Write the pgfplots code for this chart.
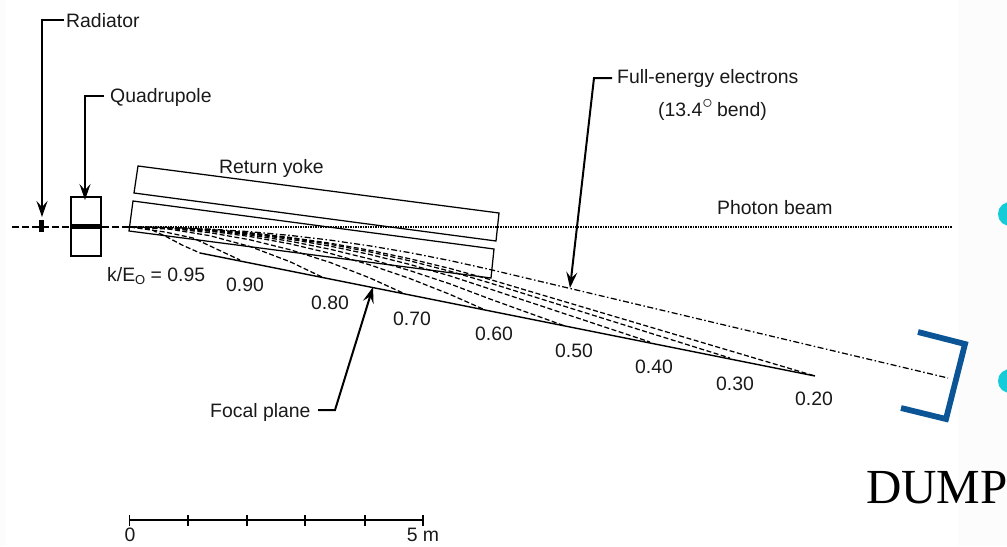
\documentclass[border=0pt]{standalone}
\usepackage{pgfplots}
\pgfplotsset{compat=1.18}
\usetikzlibrary{arrows.meta}
\usepackage{fontspec}
\setmainfont{Liberation Sans}
\newfontfamily\timesf{Liberation Serif}
\definecolor{dumpblue}{HTML}{0B5596}
\definecolor{dotcyan}{HTML}{14CBD8}
\definecolor{sidebg}{HTML}{FCFCFC}
\tikzset{ptr/.style={-{Stealth[length=16bp,width=11bp,inset=6bp]}}, traj/.style={black, line width=1.25bp, dash pattern=on 5bp off 2.5bp}}
\begin{document}
\begin{tikzpicture}
\begin{axis}[
  scale only axis, width=1007bp, height=546bp,
  xmin=0, xmax=1007, ymin=0, ymax=546, y dir=reverse,
  hide axis, clip=true,
  every axis plot/.append style={no markers, line join=miter},
  nodes={font=\fontsize{19.4bp}{22bp}\selectfont, text=black!90, inner sep=0pt}
]
% side background
\addplot[fill=sidebg, draw=none] coordinates {(958,0)(1007,0)(1007,546)(958,546)} -- cycle;
\addplot[fill=sidebg, draw=none] coordinates {(0,0)(6,0)(6,546)(0,546)} -- cycle;
% beam
\addplot[black, line width=1.2bp, dash pattern=on 7bp off 3bp] coordinates {(12,227)(130,227)};
\addplot[black, line width=1.6bp, dash pattern=on 1.5bp off 1bp] coordinates {(130,227)(952,227)};
% radiator, quadrupole
\addplot[fill=black, draw=none] coordinates {(39,220)(44,220)(44,232)(39,232)} -- cycle;
\addplot[black, line width=1.1bp, fill=white] coordinates {(71,197)(101,197)(101,256)(71,256)} -- cycle;
\addplot[fill=black, draw=none] coordinates {(71,224)(101,224)(101,229)(71,229)} -- cycle;
% yokes
\addplot[black, line width=1.25bp] coordinates {(138,166)(499,213)(496,241)(134,193)} -- cycle;
\addplot[black, line width=1.25bp] coordinates {(133,201)(494,249)(491,278)(129,231)} -- cycle;
% focal plane
\addplot[black, line width=1.4bp] coordinates {(200,253)(815,376)};
% trajectories
\addplot[traj] coordinates {(130,227)(170,227.6)(210,229.6)(250,232.8)(290,237.4)(330,243.2)(370,250.3)(410,258.8)(450,268.5)(490,279.5)(815,376)};
\addplot[traj] coordinates {(130,227)(170,227.7)(210,229.8)(250,233.2)(290,238.1)(330,244.3)(370,251.9)(410,260.9)(450,271.2)(490,283)(730,358)};
\addplot[traj] coordinates {(130,227)(170,227.8)(210,230.1)(250,233.9)(290,239.2)(330,246.1)(370,254.5)(410,264.5)(450,275.9)(490,289)(650,342)};
\addplot[traj] coordinates {(130,227)(170,227.9)(210,230.6)(250,235)(290,241.2)(330,249.2)(370,259)(410,270.6)(450,283.9)(490,299)(565,326)};
\addplot[traj] coordinates {(130,227)(170,228)(210,231.2)(250,236.5)(290,243.8)(330,253.3)(370,264.9)(410,278.6)(450,294.4)(483,309)};
\addplot[traj] coordinates {(130,227)(170,228.4)(210,232.7)(250,239.8)(290,249.7)(330,262.4)(370,278)(403,293)};
\addplot[traj] coordinates {(130,227)(170,229.2)(210,235.7)(250,246.5)(290,261.7)(322,277)};
\addplot[traj] coordinates {(130,227)(165,232)(193,238)(240,260)};
\addplot[traj] coordinates {(130,227)(150,229)(167,237)(182,245)(200,253)};
% full energy
\addplot[black, line width=1.25bp, dash pattern=on 6bp off 2.5bp on 1.5bp off 2.5bp] coordinates {(130,227)(170,227.5)(210,229.1)(250,231.7)(290,235.4)(330,240.1)(370,245.9)(410,252.7)(450,260.6)(490,269.5)(948,378)};
% dump
\addplot[dumpblue, line width=5.8bp] coordinates {(918,332)(965,344)(946,419)(901,408)};
% dots
\addplot[fill=dotcyan, draw=none] coordinates {(1007,202.4)(1002,205)(999,209)(998,214)(999,219)(1002,223)(1007,225.6)} -- cycle;
\addplot[fill=dotcyan, draw=none] coordinates {(1007,369.4)(1002,372)(999,376)(998,381)(999,386)(1002,390)(1007,392.6)} -- cycle;
% pointer lines
\addplot[black, line width=2.2bp, ptr] coordinates {(64,20)(42,20)(42,217)};
\addplot[black, line width=1.5bp, ptr] coordinates {(104,96)(85,96)(85,200)};
\addplot[black, line width=2bp, ptr] coordinates {(612,78)(594,78)(570,288)};
\addplot[black, line width=2bp, ptr] coordinates {(318,410)(335,410)(373,287)};
% scale
\addplot[black, line width=1.3bp] coordinates {(129.5,520)(423,520)};
\addplot[black, line width=1.3bp] coordinates {(129.5,515)(129.5,526)};
\addplot[black, line width=2.4bp] coordinates {(188,515)(188,526)};
\addplot[black, line width=1.3bp] coordinates {(247,515)(247,526)};
\addplot[black, line width=1.3bp] coordinates {(305,515)(305,526)};
\addplot[black, line width=1.3bp] coordinates {(365,515)(365,526)};
\addplot[black, line width=1.3bp] coordinates {(423,515)(423,526)};
% text
\node[anchor=base west] at (axis cs:66,27.5) {Radiator};
\node[anchor=base west] at (axis cs:110,102) {Quadrupole};
\node[anchor=base west] at (axis cs:219,173) {Return yoke};
\node[anchor=base west] at (axis cs:717,214) {Photon beam};
\node[anchor=base west] at (axis cs:617,84) {Full-energy electrons};
\node[anchor=base west] at (axis cs:658,116) {(13.4\raisebox{8bp}{\fontsize{20bp}{20bp}\selectfont$\circ$}\hspace{-1bp} bend)};
\node[anchor=base west] at (axis cs:107,281) {k/E\raisebox{-0.3ex}{\fontsize{13bp}{13bp}\selectfont O} = 0.95};
\node[anchor=base] at (axis cs:245,291) {0.90};
\node[anchor=base] at (axis cs:330,309) {0.80};
\node[anchor=base] at (axis cs:412,325) {0.70};
\node[anchor=base] at (axis cs:494,340) {0.60};
\node[anchor=base] at (axis cs:574,357) {0.50};
\node[anchor=base] at (axis cs:654,373) {0.40};
\node[anchor=base] at (axis cs:735,390) {0.30};
\node[anchor=base] at (axis cs:814,405) {0.20};
\node[anchor=base west] at (axis cs:210,417) {Focal plane};
\node[anchor=base] at (axis cs:130,541.5) {0};
\node[anchor=base] at (axis cs:423,541.5) {5 m};
\node[anchor=base west, font=\timesf\fontsize{49bp}{52bp}\selectfont, text=black] at (axis cs:866,503) {DUMP};
\end{axis}
\end{tikzpicture}
\end{document}
